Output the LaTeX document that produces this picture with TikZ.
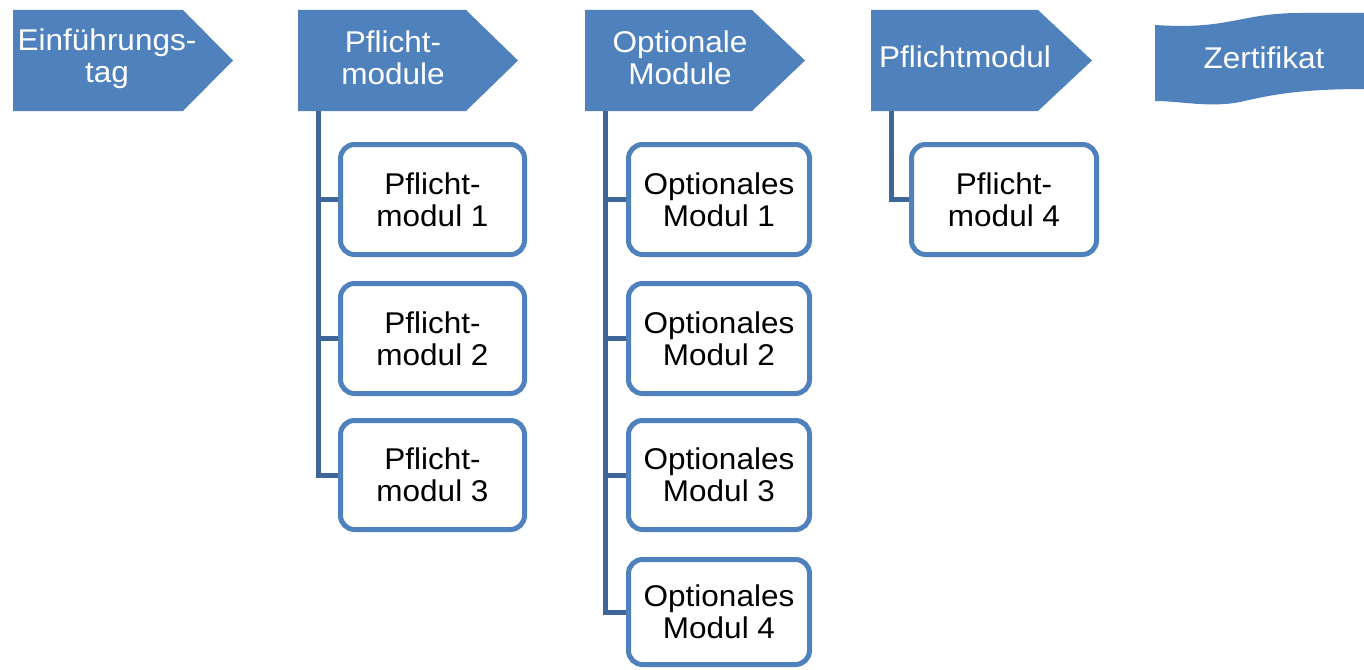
\documentclass[tikz,border=0pt]{standalone}
\usepackage{fontspec}
\setmainfont{Liberation Sans}[FakeStretch=1.05]
\definecolor{hdr}{HTML}{4F81BD}
\definecolor{conn}{HTML}{3E6699}
\tikzset{
  hdrshape/.style={fill=hdr, draw=none},
  hdrtext/.style={text=white, font=\fontsize{30}{32}\selectfont, align=center, inner sep=0pt},
  modbox/.style={draw=hdr, line width=5pt, rounded corners=14pt, fill=white,
     minimum height=110pt, text=black, font=\fontsize{30}{32}\selectfont, align=center, inner sep=0pt},
  conline/.style={draw=conn, line width=5pt},
}
\begin{document}
\begin{tikzpicture}[x=1pt,y=-1pt]
\useasboundingbox (0,0) rectangle (1364,669);
% header chevrons
\fill[hdrshape] (13,10) -- (183,10) -- (233,60.5) -- (183,111) -- (13,111) -- cycle;
\fill[hdrshape] (298,10) -- (466,10) -- (518,60.5) -- (466,111) -- (298,111) -- cycle;
\fill[hdrshape] (585,10) -- (752,10) -- (805,60.5) -- (752,111) -- (585,111) -- cycle;
\fill[hdrshape] (871,10) -- (1038,10) -- (1092,60.5) -- (1038,111) -- (871,111) -- cycle;
% wave
\fill[hdrshape] (1155,25) .. controls (1230,30) and (1240,13) .. (1300,13) -- (1364,13) -- (1364,89)
   .. controls (1300,89) and (1270,95) .. (1240,102) .. controls (1210,108) and (1180,101) .. (1155,101) -- cycle;
\node[hdrtext] (h1) at (107,59) {Einführungs-\\tag};
\node[hdrtext] (h2) at (393,58) {Pflicht-\\module};
\node[hdrtext] (h3) at (680,58) {Optionale\\Module};
\node[hdrtext] (h4) at (965,57) {Pflichtmodul};
\node[hdrtext] (h5) at (1264,58) {Zertifikat};
% connector start points under headers
\coordinate (s2) at (318,111);
\coordinate (s3) at (605,111);
\coordinate (s4) at (891,111);
% boxes
\node[modbox, minimum width=184pt] (p1) at (432.5,199.5) {Pflicht-\\modul 1};
\node[modbox, minimum width=184pt] (p2) at (432.5,338.5) {Pflicht-\\modul 2};
\node[modbox, minimum width=184pt, minimum height=109pt] (p3) at (432.5,475) {Pflicht-\\modul 3};
\node[modbox, minimum width=181pt] (o1) at (719,199.5) {Optionales\\Modul 1};
\node[modbox, minimum width=181pt] (o2) at (719,338.5) {Optionales\\Modul 2};
\node[modbox, minimum width=181pt, minimum height=109pt] (o3) at (719,475) {Optionales\\Modul 3};
\node[modbox, minimum width=181pt, minimum height=105pt] (o4) at (719,612) {Optionales\\Modul 4};
\node[modbox, minimum width=185pt] (p4) at (1004,199.5) {Pflicht-\\modul 4};
% connectors
\draw[conline] (s2) |- (p3.west);
\draw[conline] (s2 |- p1.west) -- (p1.west);
\draw[conline] (s2 |- p2.west) -- (p2.west);
\draw[conline] (s3) |- (o4.west);
\draw[conline] (s3 |- o1.west) -- (o1.west);
\draw[conline] (s3 |- o2.west) -- (o2.west);
\draw[conline] (s3 |- o3.west) -- (o3.west);
\draw[conline] (s4) |- (p4.west);
\end{tikzpicture}
\end{document}
